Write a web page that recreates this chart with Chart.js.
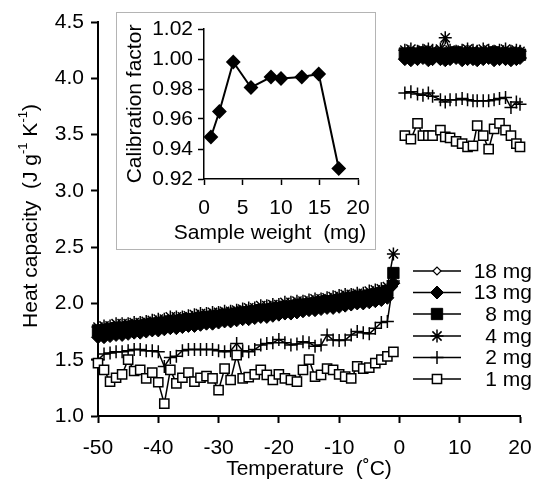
<!DOCTYPE html>
<html>
<head>
<meta charset="utf-8">
<script src="https://cdn.jsdelivr.net/npm/chart.js@4.4.0/dist/chart.umd.min.js"></script>
<style>
  body { margin: 0; background: #fff; }
  #wrap { position: relative; width: 533px; height: 483px; }
  #wrap canvas { display: block; }
  #inset { position: absolute; left: 116px; top: 12px; width: 258px; height: 236px; border: 1px solid #b4b4b4; background: #fff; }
</style>
</head>
<body>
<div id="wrap">
  <canvas id="mainChart" width="533" height="483"></canvas>
  <div id="inset"><canvas id="insetChart" width="258" height="236"></canvas></div>
</div>
<script>
// temperatures (°C)
const tempLow = [-50, -49, -48, -47, -46, -45, -44, -43, -42, -41, -40, -39, -38, -37, -36, -35, -34, -33, -32, -31,
  -30, -29, -28, -27, -26, -25, -24, -23, -22, -21, -20, -19, -18, -17, -16, -15, -14, -13, -12, -11,
  -10, -9, -8, -7, -6, -5, -4, -3, -2, -1];
const tempHigh = [0.9, 1.9, 3.0, 3.9, 4.8, 5.5, 6.8, 7.6, 8.4, 9.4, 10.4, 11.3, 12.2, 12.9, 13.9, 14.8, 15.7, 16.6, 17.6, 18.5, 19.4, 20.0];

// heat capacity (J g-1 K-1) per sample weight
const cp18Low = [1.74, 1.74, 1.75, 1.76, 1.76, 1.77, 1.78, 1.78, 1.79, 1.80, 1.80, 1.81, 1.82, 1.82, 1.83, 1.84, 1.84, 1.85, 1.86, 1.86,
  1.87, 1.88, 1.88, 1.89, 1.90, 1.90, 1.91, 1.92, 1.92, 1.93, 1.94, 1.95, 1.95, 1.96, 1.97, 1.98, 1.98, 1.99, 2.00, 2.00,
  2.01, 2.02, 2.03, 2.04, 2.04, 2.05, 2.06, 2.07, 2.09, 2.15];
const cp18High = [4.20, 4.19, 4.20, 4.20, 4.19, 4.20, 4.21, 4.20, 4.19, 4.20, 4.20, 4.19, 4.20, 4.21, 4.20, 4.19, 4.20, 4.20, 4.19, 4.20, 4.21, 4.20];

const cp13Low = [1.70, 1.70, 1.71, 1.72, 1.72, 1.73, 1.74, 1.74, 1.75, 1.76, 1.76, 1.77, 1.78, 1.78, 1.79, 1.80, 1.80, 1.81, 1.82, 1.82,
  1.83, 1.84, 1.84, 1.85, 1.86, 1.86, 1.87, 1.88, 1.88, 1.89, 1.90, 1.91, 1.91, 1.92, 1.93, 1.94, 1.94, 1.95, 1.96, 1.96,
  1.97, 1.98, 1.99, 2.00, 2.00, 2.01, 2.02, 2.03, 2.05, 2.18];
const cp13High = [4.17, 4.16, 4.17, 4.18, 4.16, 4.17, 4.17, 4.16, 4.17, 4.18, 4.16, 4.17, 4.17, 4.16, 4.17, 4.18, 4.16, 4.17, 4.17, 4.16, 4.17, 4.18];

const cp8Low = [1.76, 1.76, 1.77, 1.78, 1.78, 1.79, 1.80, 1.80, 1.81, 1.82, 1.82, 1.83, 1.84, 1.84, 1.85, 1.86, 1.86, 1.87, 1.88, 1.88,
  1.89, 1.90, 1.90, 1.91, 1.92, 1.92, 1.93, 1.94, 1.94, 1.95, 1.96, 1.97, 1.97, 1.98, 1.99, 1.99, 2.00, 2.01, 2.02, 2.02,
  2.03, 2.04, 2.05, 2.06, 2.06, 2.07, 2.08, 2.09, 2.11, 2.27];
const cp8High = [4.22, 4.21, 4.22, 4.23, 4.21, 4.22, 4.22, 4.21, 4.22, 4.23, 4.22, 4.21, 4.22, 4.22, 4.21, 4.22, 4.23, 4.22, 4.21, 4.22, 4.22, 4.21];

const cp4Low = [1.79, 1.80, 1.80, 1.82, 1.82, 1.82, 1.83, 1.83, 1.84, 1.85, 1.86, 1.86, 1.88, 1.88, 1.88, 1.89, 1.90, 1.91, 1.91, 1.92,
  1.92, 1.93, 1.93, 1.94, 1.95, 1.96, 1.96, 1.98, 1.98, 1.99, 1.99, 2.01, 2.01, 2.02, 2.02, 2.03, 2.04, 2.04, 2.05, 2.06,
  2.07, 2.08, 2.08, 2.09, 2.09, 2.11, 2.12, 2.13, 2.15, 2.44];
const cp4High = [4.25, 4.26, 4.24, 4.25, 4.26, 4.25, 4.26, 4.36, 4.25, 4.24, 4.25, 4.26, 4.25, 4.24, 4.26, 4.25, 4.24, 4.25, 4.26, 4.24, 4.25, 4.24];

const cp2Low = [1.50, 1.55, 1.56, 1.57, 1.57, 1.58, 1.59, 1.59, 1.58, 1.58, 1.57, 1.44, 1.52, 1.53, 1.58, 1.59, 1.59, 1.59, 1.59, 1.59,
  1.58, 1.57, 1.58, 1.645, 1.58, 1.57, 1.59, 1.63, 1.645, 1.65, 1.68, 1.65, 1.63, 1.64, 1.66, 1.65, 1.62, 1.63, 1.72, 1.675,
  1.67, 1.675, 1.72, 1.75, 1.74, 1.73, 1.78, 1.83, 1.84, 2.20];
const cp2High = [3.87, 3.88, 3.86, 3.85, 3.87, 3.84, 3.81, 3.79, 3.81, 3.81, 3.82, 3.81, 3.80, 3.80, 3.80, 3.80, 3.81, 3.82, 3.83, 3.74, 3.79, 3.77];

const cp1Low = [1.47, 1.41, 1.305, 1.34, 1.37, 1.50, 1.40, 1.41, 1.335, 1.385, 1.30, 1.11, 1.41, 1.29, 1.34, 1.385, 1.305, 1.34, 1.355, 1.335,
  1.23, 1.42, 1.32, 1.54, 1.335, 1.345, 1.37, 1.41, 1.365, 1.32, 1.37, 1.335, 1.32, 1.305, 1.41, 1.50, 1.35, 1.365, 1.42, 1.41,
  1.37, 1.35, 1.335, 1.44, 1.42, 1.43, 1.47, 1.50, 1.53, 1.57];
const cp1High = [3.49, 3.46, 3.60, 3.49, 3.49, 3.49, 3.54, 3.48, 3.47, 3.44, 3.42, 3.39, 3.40, 3.58, 3.49, 3.37, 3.55, 3.60, 3.54, 3.49, 3.42, 3.39];

const sampleLabels = ['18 mg', '13 mg', '8 mg', '4 mg', '2 mg', '1 mg'];

// inset
const sampleWeight = [0.9, 2.0, 3.8, 6.1, 8.7, 10.0, 12.7, 14.9, 17.5];
const calibFactor = [0.948, 0.965, 0.998, 0.981, 0.988, 0.987, 0.988, 0.990, 0.927];

const xTicksMain = [-50, -40, -30, -20, -10, 0, 10, 20];
const yTicksMain = [1.0, 1.5, 2.0, 2.5, 3.0, 3.5, 4.0, 4.5];

const FAM = "'Liberation Sans', Arial, sans-serif";
Chart.defaults.font.family = FAM;
Chart.defaults.font.size = 21;
Chart.defaults.color = '#000';

function joinParts(low, high) {
    const pts = tempLow.map((t, i) => ({ x: t, y: low[i] }));
    pts.push({ x: -0.4, y: null }); // break between the two runs
    tempHigh.forEach((t, i) => pts.push({ x: t, y: high[i] }));
    return pts;
}

const seriesData = [
    joinParts(cp18Low, cp18High),
    joinParts(cp13Low, cp13High),
    joinParts(cp8Low, cp8High),
    joinParts(cp4Low, cp4High),
    joinParts(cp2Low, cp2High),
    joinParts(cp1Low, cp1High),
];

const markers = [
    { pointStyle: 'rectRot', radius: 4, fill: '#fff', bw: 1.2 },
    { pointStyle: 'rectRot', radius: 6.5, fill: '#000', bw: 1 },
    { pointStyle: 'rect', radius: 8, fill: '#000', bw: 1 },
    { pointStyle: 'star', radius: 6.5, fill: '#000', bw: 1.5 },
    { pointStyle: 'cross', radius: 6.5, fill: '#000', bw: 1.5 },
    { pointStyle: 'rect', radius: 6.5, fill: '#fff', bw: 1.5 },
];

const datasets = seriesData.map((d, i) => ({
    label: sampleLabels[i],
    data: d,
    borderColor: '#000',
    borderWidth: 1.5,
    backgroundColor: markers[i].fill,
    pointStyle: markers[i].pointStyle,
    pointRadius: markers[i].radius,
    pointBorderWidth: markers[i].bw,
    pointBorderColor: '#000',
    pointBackgroundColor: markers[i].fill,
    tension: 0,
    spanGaps: false,
    clip: false,
    order: 5 - i
}));

// y title with superscripts + legend inside the plot
const extrasPlugin = {
    id: 'extras',
    afterDraw(chart) {
        const ctx = chart.ctx;
        const parts = [
            { t: 'Heat capacity  (J g', s: 21, up: 0 },
            { t: '-1', s: 13, up: 8 },
            { t: ' K', s: 21, up: 0 },
            { t: '-1', s: 13, up: 8 },
            { t: ')', s: 21, up: 0 },
        ];
        ctx.save();
        ctx.fillStyle = '#000';
        ctx.textBaseline = 'middle';
        let total = 0;
        parts.forEach(p => { ctx.font = p.s + 'px ' + FAM; p.w = ctx.measureText(p.t).width; total += p.w; });
        ctx.translate(31, 216);
        ctx.rotate(-Math.PI / 2);
        let x = -total / 2;
        parts.forEach(p => {
            ctx.font = p.s + 'px ' + FAM;
            ctx.fillText(p.t, x, -p.up);
            x += p.w;
        });
        ctx.restore();

        // legend
        ctx.save();
        const rowY = [271, 292.5, 314, 336, 357.5, 379];
        sampleLabels.forEach((lab, i) => {
            const y = rowY[i];
            ctx.strokeStyle = '#000';
            ctx.lineWidth = 1.5;
            ctx.beginPath();
            ctx.moveTo(413, y);
            ctx.lineTo(461, y);
            ctx.stroke();
            ctx.fillStyle = markers[i].fill;
            ctx.lineWidth = markers[i].bw;
            Chart.helpers.drawPoint(ctx, { pointStyle: markers[i].pointStyle, radius: markers[i].radius, borderWidth: markers[i].bw, rotation: 0 }, 437, y);
            ctx.fillStyle = '#000';
            ctx.font = '21px ' + FAM;
            ctx.textAlign = 'right';
            ctx.textBaseline = 'middle';
            ctx.fillText(lab, 532, y + 1);
        });
        ctx.restore();
    }
};

new Chart(document.getElementById('mainChart'), {
    type: 'line',
    data: { datasets: datasets },
    options: {
        responsive: false,
        animation: false,
        layout: { padding: { top: 22, right: 13, left: 0, bottom: 0 } },
        plugins: { legend: { display: false }, tooltip: { enabled: false } },
        scales: {
            x: {
                type: 'linear', min: -50, max: 20,
                afterBuildTicks: s => { s.ticks = xTicksMain.map(v => ({ value: v })); },
                ticks: { padding: 13, maxRotation: 0, autoSkip: false, callback: v => String(v) },
                grid: { drawOnChartArea: false, tickLength: 7, tickColor: '#000', tickWidth: 2 },
                border: { color: '#000', width: 2 },
                title: { display: true, text: 'Temperature  (˚C)', padding: { top: 0, bottom: 1 } },
                afterFit: s => { s.height = 67; s.paddingLeft = 0; s.paddingRight = 0; }
            },
            y: {
                type: 'linear', min: 1, max: 4.5,
                afterBuildTicks: s => { s.ticks = yTicksMain.map(v => ({ value: v })); },
                ticks: { padding: 7, callback: v => v.toFixed(1) },
                grid: { drawOnChartArea: false, tickLength: 7, tickColor: '#000', tickWidth: 2 },
                border: { color: '#000', width: 2 },
                afterFit: s => { s.width = 98; s.paddingTop = 0; s.paddingBottom = 0; }
            }
        }
    },
    plugins: [extrasPlugin]
});

// inset x title drawn by hand so it is not squeezed to the axis width
const insetTitlePlugin = {
    id: 'insetTitle',
    afterDraw(chart) {
        const ctx = chart.ctx;
        ctx.save();
        ctx.fillStyle = '#000';
        ctx.font = '21px ' + FAM;
        ctx.textAlign = 'center';
        ctx.textBaseline = 'middle';
        ctx.fillText('Sample weight  (mg)', 153, 220);
        ctx.restore();
    }
};

new Chart(document.getElementById('insetChart'), {
    type: 'line',
    data: {
        datasets: [{
            label: 'Calibration factor',
            data: sampleWeight.map((w, i) => ({ x: w, y: calibFactor[i] })),
            borderColor: '#000',
            borderWidth: 2,
            pointStyle: 'rectRot',
            pointRadius: 6,
            pointBackgroundColor: '#000',
            pointBorderColor: '#000',
            tension: 0,
            clip: false
        }]
    },
    options: {
        responsive: false,
        animation: false,
        layout: { padding: { top: 16, right: 17, left: 0, bottom: 0 } },
        plugins: { legend: { display: false }, tooltip: { enabled: false } },
        scales: {
            x: {
                type: 'linear', min: 0, max: 20,
                ticks: { stepSize: 5, padding: 11, maxRotation: 0 },
                grid: { drawOnChartArea: false, tickLength: 6, tickColor: '#000', tickWidth: 1.5 },
                border: { color: '#000', width: 1.5 },
                afterFit: s => { s.height = 70; s.paddingLeft = 0; s.paddingRight = 0; }
            },
            y: {
                type: 'linear', min: 0.92, max: 1.02,
                ticks: { stepSize: 0.02, padding: 5, callback: v => v.toFixed(2) },
                grid: { drawOnChartArea: false, tickLength: 6, tickColor: '#000', tickWidth: 1.5 },
                border: { color: '#000', width: 1.5 },
                title: { display: true, text: 'Calibration factor', padding: { top: 6, bottom: 0 } },
                afterFit: s => { s.width = 87; s.paddingTop = 0; s.paddingBottom = 0; }
            }
        }
    },
    plugins: [insetTitlePlugin]
});
</script>
</body>
</html>
